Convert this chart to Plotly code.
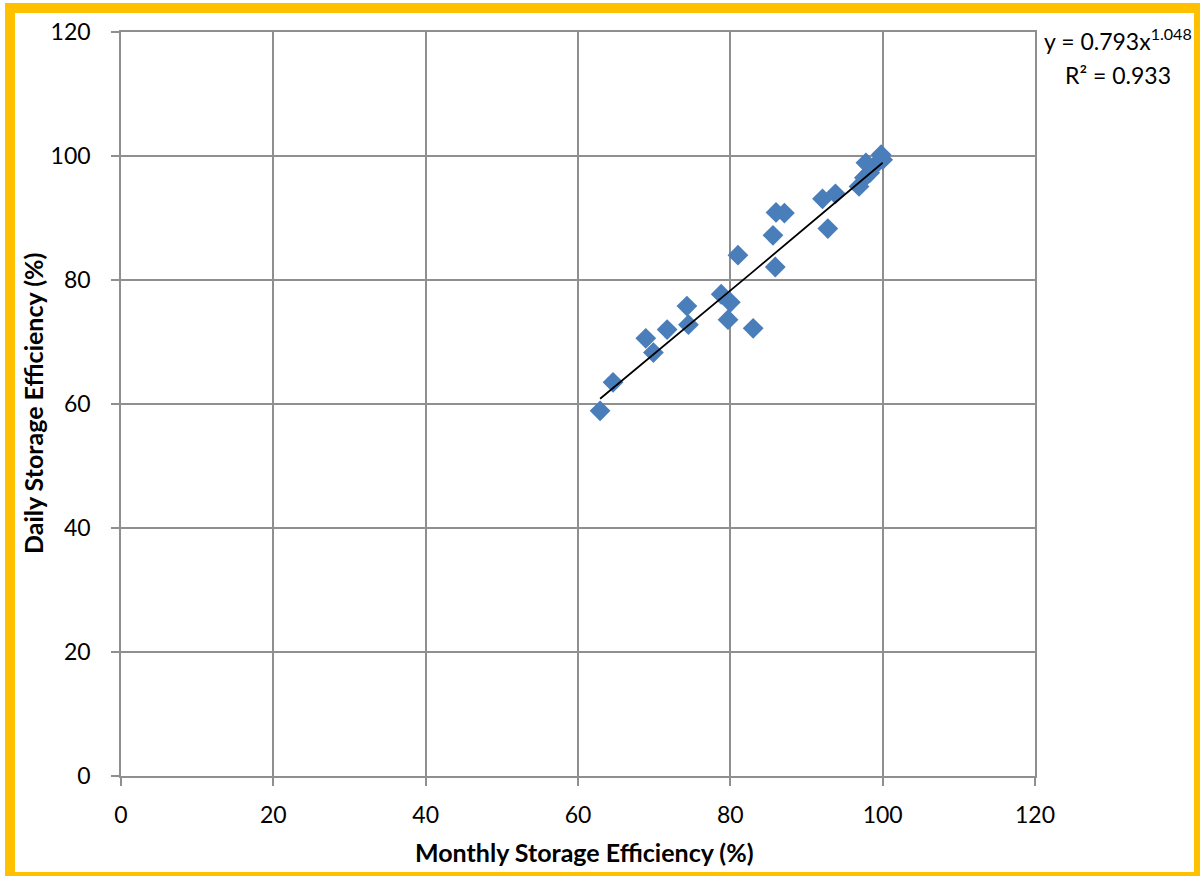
import numpy as np
import plotly.graph_objects as go

# Data
monthly = [62.9, 64.6, 68.9, 69.9, 71.7, 74.3, 74.5, 78.8, 80.0, 79.7, 83.0, 81.0,
           85.6, 85.9, 86.0, 87.1, 92.1, 92.8, 93.8, 96.9, 97.6, 98.3, 97.8, 99.3,
           99.8, 100.0]
daily = [58.9, 63.5, 70.6, 68.3, 72.0, 75.8, 72.8, 77.7, 76.4, 73.6, 72.2, 84.0,
         87.2, 82.1, 90.9, 90.8, 93.1, 88.3, 93.9, 95.1, 96.5, 97.3, 98.9, 98.9,
         100.2, 99.4]

# Power trendline coefficients shown on the chart
coef_a = 0.793
coef_b = 1.048
r2 = 0.933

tick_vals = [0, 20, 40, 60, 80, 100, 120]

trend_x = np.linspace(min(monthly), max(monthly), 60)
trend_y = coef_a * trend_x ** coef_b

fig = go.Figure()
fig.add_trace(go.Scatter(
    x=monthly, y=daily, mode="markers",
    marker=dict(symbol="diamond", size=16, color="#4A7EBB", line=dict(width=0)),
    showlegend=False, cliponaxis=False,
))
fig.add_trace(go.Scatter(
    x=trend_x, y=trend_y, mode="lines",
    line=dict(color="black", width=1.8), showlegend=False,
))

L, R, T, B = 121, 1035, 32, 776
W, H = 1200, 876
pw, ph = R - L, B - T

def px_x(p):
    return (p - L) / pw

def px_y(p):
    return (B - p) / ph

grid = "#8f8f8f"
axis_common = dict(
    range=[0, 120], tickvals=tick_vals, ticktext=[str(v) for v in tick_vals],
    showgrid=True, gridcolor=grid, gridwidth=1.5,
    showline=True, linecolor=grid, linewidth=1.5, mirror=True,
    ticks="outside", ticklen=8, tickcolor=grid, tickwidth=1.5,
    zeroline=False, fixedrange=True,
    tickfont=dict(family="Lato", size=23, color="black"),
)

fig.update_layout(
    width=W, height=H,
    margin=dict(l=L, r=W - R, t=T, b=H - B),
    paper_bgcolor="white", plot_bgcolor="white",
    xaxis=dict(**axis_common, ticklabelstandoff=10),
    yaxis=dict(**axis_common, ticklabelstandoff=16),
    font=dict(family="Lato", color="black"),
    annotations=[
        dict(text="<b>Monthly Storage Efficiency (%)</b>", xref="paper", yref="paper",
             x=px_x(584), y=px_y(852), xanchor="center", yanchor="middle",
             showarrow=False, font=dict(size=25, family="Lato")),
        dict(text="<b>Daily Storage Efficiency (%)</b>", xref="paper", yref="paper",
             x=px_x(33), y=px_y(404), xanchor="center", yanchor="middle", textangle=-90,
             showarrow=False, font=dict(size=25, family="Lato")),
        dict(text="y = 0.793x<sup>1.048</sup>", xref="paper", yref="paper",
             x=px_x(1117.5), y=px_y(40), xanchor="center", yanchor="middle",
             showarrow=False, font=dict(size=23, family="Lato")),
        dict(text="R² = 0.933", xref="paper", yref="paper",
             x=px_x(1117.5), y=px_y(75), xanchor="center", yanchor="middle",
             showarrow=False, font=dict(size=23, family="Lato")),
    ],
    shapes=[
        dict(type="rect", xref="paper", yref="paper",
             x0=px_x(10), x1=px_x(1199), y0=px_y(877), y1=px_y(8),
             line=dict(color="#FFC000", width=10), fillcolor="rgba(0,0,0,0)", layer="above"),
    ],
)

fig.write_html("out.html")
